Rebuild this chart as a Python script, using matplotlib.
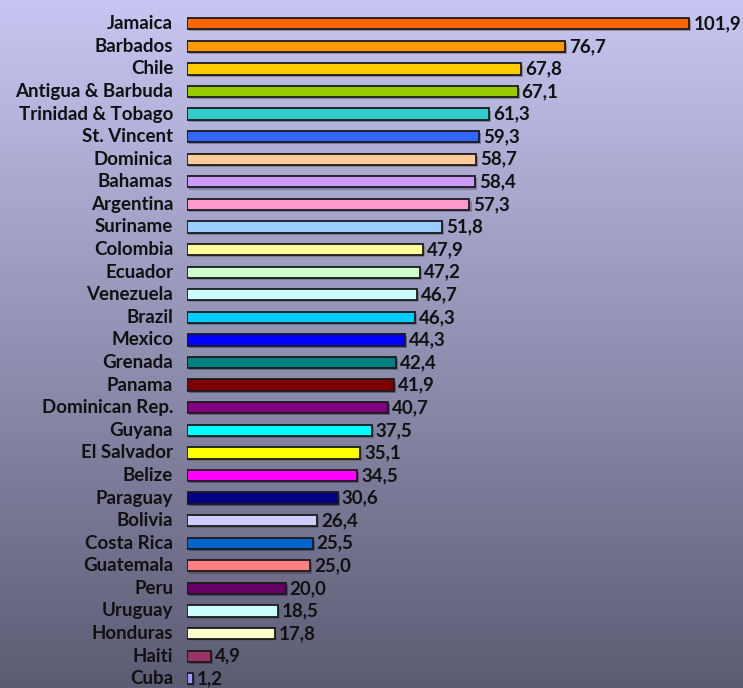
import numpy as np
import matplotlib
matplotlib.use("Agg")
from matplotlib import pyplot as plt
from matplotlib import patheffects

countries = ["Jamaica", "Barbados", "Chile", "Antigua & Barbuda", "Trinidad & Tobago",
             "St. Vincent", "Dominica", "Bahamas", "Argentina", "Suriname",
             "Colombia", "Ecuador", "Venezuela", "Brazil", "Mexico",
             "Grenada", "Panama", "Dominican Rep.", "Guyana", "El Salvador",
             "Belize", "Paraguay", "Bolivia", "Costa Rica", "Guatemala",
             "Peru", "Uruguay", "Honduras", "Haiti", "Cuba"]
values = [101.9, 76.7, 67.8, 67.1, 61.3, 59.3, 58.7, 58.4, 57.3, 51.8,
          47.9, 47.2, 46.7, 46.3, 44.3, 42.4, 41.9, 40.7, 37.5, 35.1,
          34.5, 30.6, 26.4, 25.5, 25.0, 20.0, 18.5, 17.8, 4.9, 1.2]
colors = ["#FF6600", "#FF9900", "#FFCC00", "#99CC00", "#33CCCC",
          "#3366FF", "#FFCC99", "#CC99FF", "#FF99CC", "#99CCFF",
          "#FFFF99", "#CCFFCC", "#CCFFFF", "#00CCFF", "#0000FF",
          "#008080", "#800000", "#800080", "#00FFFF", "#FFFF00",
          "#FF00FF", "#000080", "#CCCCFF", "#0066CC", "#FF8080",
          "#660066", "#CCFFFF", "#FFFFCC", "#993366", "#9999FF"]

fig = plt.figure(figsize=(7.43, 6.88), dpi=100)

# background gradient
bg = fig.add_axes([0, 0, 1, 1])
grad = np.linspace(0, 1, 256).reshape(-1, 1)
top = np.array([198, 198, 242]) / 255
bot = np.array([92, 92, 116]) / 255
img = top[None, None, :] * (1 - grad[:, :, None]) + bot[None, None, :] * grad[:, :, None]
bg.imshow(img, aspect="auto", extent=[0, 1, 0, 1])
bg.axis("off")

left = 187 / 743
ax = fig.add_axes([left, 0, 1 - left, 1])
ax.patch.set_alpha(0)

n = len(countries)
ypos = np.arange(n)[::-1]
bars = ax.barh(ypos, values, height=0.5, color=colors, edgecolor="#1a1a1a", linewidth=1.3)
for b in bars:
    b.set_path_effects([patheffects.SimplePatchShadow(offset=(1.5, -1.5), alpha=0.35),
                        patheffects.Normal()])

font = "Lato"
for y, v, name in zip(ypos, values, countries):
    ax.text(v + 0.8, y, f"{v:.1f}".replace(".", ","), va="center", ha="left",
            fontsize=13.5, fontweight="bold", family=font, color="#111111")
    ax.text(-2.8, y, name, va="center", ha="right", fontsize=13.5,
            fontweight="bold", family=font, color="#111111", clip_on=False)

ax.set_xlim(0, 556 / 4.93)
ax.set_ylim(-0.41, 31.05 - 1)
ax.axis("off")

fig.savefig("out.png", dpi=100)
